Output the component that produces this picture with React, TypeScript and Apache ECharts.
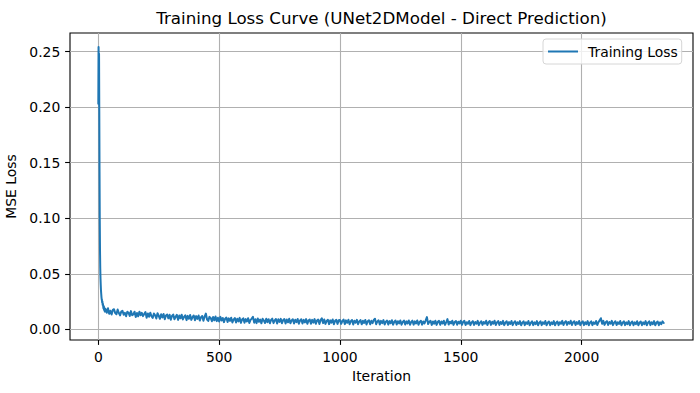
import React, { useEffect, useRef } from "react";
import * as echarts from "echarts";

// Training loss
// iterations 0..29 (one value per iteration)
const earlyLoss = [
  0.203, 0.254, 0.232, 0.248, 0.196, 0.142, 0.098, 0.071, 0.055, 0.046,
  0.040, 0.035, 0.032, 0.029, 0.027, 0.026, 0.024, 0.025, 0.022, 0.023,
  0.021, 0.019, 0.021, 0.018, 0.020, 0.017, 0.019, 0.016, 0.018, 0.016,
];
// iterations 30..495, every 5
const lossA = [
  0.0183, 0.0149, 0.0189, 0.0140, 0.0167, 0.0133, 0.0175, 0.0181, 0.0146, 0.0136,
  0.0178, 0.0147, 0.0126, 0.0159, 0.0167, 0.0131, 0.0148, 0.0118, 0.0159, 0.0150,
  0.0120, 0.0164, 0.0127, 0.0134, 0.0158, 0.0111, 0.0147, 0.0117, 0.0159, 0.0127,
  0.0149, 0.0119, 0.0138, 0.0156, 0.0105, 0.0143, 0.0113, 0.0150, 0.0118, 0.0103,
  0.0143, 0.0127, 0.0098, 0.0145, 0.0122, 0.0095, 0.0135, 0.0107, 0.0138, 0.0091,
  0.0125, 0.0134, 0.0099, 0.0131, 0.0087, 0.0121, 0.0133, 0.0090, 0.0113, 0.0130,
  0.0085, 0.0124, 0.0099, 0.0132, 0.0089, 0.0112, 0.0127, 0.0083, 0.0121, 0.0095,
  0.0129, 0.0085, 0.0110, 0.0125, 0.0081, 0.0119, 0.0094, 0.0124, 0.0079, 0.0109,
  0.0120, 0.0077, 0.0115, 0.0142, 0.0088, 0.0076, 0.0112, 0.0102, 0.0073, 0.0111,
  0.0081, 0.0116, 0.0074, 0.0104,
];
// iterations 500..995, every 5
const lossB = [
  0.0071, 0.0112, 0.0080, 0.0102, 0.0065, 0.0096, 0.0106, 0.0066, 0.0099, 0.0076,
  0.0105, 0.0062, 0.0088, 0.0102, 0.0061, 0.0095, 0.0071, 0.0103, 0.0058, 0.0088,
  0.0099, 0.0059, 0.0092, 0.0071, 0.0100, 0.0057, 0.0085, 0.0096, 0.0112, 0.0060,
  0.0091, 0.0056, 0.0097, 0.0068, 0.0088, 0.0054, 0.0095, 0.0079, 0.0057, 0.0096,
  0.0064, 0.0091, 0.0054, 0.0085, 0.0096, 0.0056, 0.0081, 0.0093, 0.0053, 0.0090,
  0.0067, 0.0094, 0.0055, 0.0083, 0.0092, 0.0052, 0.0088, 0.0063, 0.0095, 0.0054,
  0.0080, 0.0091, 0.0052, 0.0086, 0.0065, 0.0093, 0.0051, 0.0080, 0.0091, 0.0052,
  0.0085, 0.0062, 0.0092, 0.0050, 0.0079, 0.0089, 0.0051, 0.0085, 0.0060, 0.0092,
  0.0050, 0.0079, 0.0088, 0.0048, 0.0083, 0.0100, 0.0056, 0.0089, 0.0049, 0.0076,
  0.0086, 0.0047, 0.0081, 0.0060, 0.0089, 0.0046, 0.0076, 0.0085, 0.0049, 0.0081,
];
// iterations 1000..1495, every 5
const lossC = [
  0.0084, 0.0049, 0.0075, 0.0088, 0.0047, 0.0081, 0.0059, 0.0086, 0.0046, 0.0073,
  0.0084, 0.0044, 0.0078, 0.0060, 0.0085, 0.0046, 0.0071, 0.0083, 0.0045, 0.0077,
  0.0058, 0.0084, 0.0044, 0.0073, 0.0082, 0.0045, 0.0077, 0.0056, 0.0084, 0.0095,
  0.0046, 0.0071, 0.0081, 0.0043, 0.0076, 0.0056, 0.0083, 0.0043, 0.0069, 0.0079,
  0.0043, 0.0074, 0.0056, 0.0082, 0.0042, 0.0068, 0.0079, 0.0044, 0.0073, 0.0054,
  0.0080, 0.0042, 0.0067, 0.0079, 0.0043, 0.0072, 0.0053, 0.0080, 0.0041, 0.0066,
  0.0078, 0.0042, 0.0072, 0.0053, 0.0080, 0.0041, 0.0067, 0.0077, 0.0042, 0.0071,
  0.0053, 0.0080, 0.0110, 0.0047, 0.0068, 0.0077, 0.0040, 0.0070, 0.0051, 0.0078,
  0.0040, 0.0067, 0.0076, 0.0041, 0.0070, 0.0052, 0.0078, 0.0040, 0.0065, 0.0092,
  0.0043, 0.0069, 0.0053, 0.0078, 0.0040, 0.0066, 0.0075, 0.0041, 0.0069, 0.0054,
];
// iterations 1500..2340, every 5
const lossD = [
  0.0077, 0.0040, 0.0067, 0.0076, 0.0039, 0.0064, 0.0050, 0.0075, 0.0038, 0.0063,
  0.0074, 0.0039, 0.0066, 0.0050, 0.0076, 0.0038, 0.0061, 0.0073, 0.0040, 0.0066,
  0.0051, 0.0077, 0.0039, 0.0064, 0.0075, 0.0040, 0.0068, 0.0051, 0.0078, 0.0039,
  0.0062, 0.0074, 0.0039, 0.0066, 0.0049, 0.0076, 0.0038, 0.0061, 0.0073, 0.0039,
  0.0065, 0.0048, 0.0075, 0.0038, 0.0060, 0.0073, 0.0039, 0.0064, 0.0048, 0.0074,
  0.0037, 0.0060, 0.0072, 0.0038, 0.0064, 0.0048, 0.0075, 0.0037, 0.0059, 0.0072,
  0.0038, 0.0063, 0.0047, 0.0074, 0.0037, 0.0060, 0.0072, 0.0038, 0.0064, 0.0048,
  0.0075, 0.0037, 0.0059, 0.0071, 0.0037, 0.0063, 0.0047, 0.0074, 0.0036, 0.0059,
  0.0071, 0.0038, 0.0064, 0.0050, 0.0076, 0.0039, 0.0063, 0.0074, 0.0040, 0.0066,
  0.0051, 0.0077, 0.0039, 0.0063, 0.0073, 0.0039, 0.0065, 0.0049, 0.0075, 0.0038,
  0.0061, 0.0072, 0.0038, 0.0064, 0.0047, 0.0074, 0.0037, 0.0060, 0.0072, 0.0038,
  0.0063, 0.0048, 0.0075, 0.0039, 0.0065, 0.0080, 0.0100, 0.0050, 0.0076, 0.0040,
  0.0064, 0.0074, 0.0039, 0.0066, 0.0050, 0.0076, 0.0038, 0.0061, 0.0073, 0.0039,
  0.0064, 0.0048, 0.0075, 0.0037, 0.0060, 0.0072, 0.0038, 0.0063, 0.0047, 0.0074,
  0.0037, 0.0059, 0.0071, 0.0037, 0.0063, 0.0047, 0.0073, 0.0036, 0.0059, 0.0071,
  0.0037, 0.0063, 0.0046, 0.0074, 0.0037, 0.0060, 0.0072, 0.0038, 0.0064, 0.0047,
  0.0074, 0.0037, 0.0059, 0.0071, 0.0037, 0.0063, 0.0047, 0.0072, 0.0057,
];

const segments = [
  { start: 0, step: 1, values: earlyLoss },
  { start: 30, step: 5, values: lossA },
  { start: 500, step: 5, values: lossB },
  { start: 1000, step: 5, values: lossC },
  { start: 1500, step: 5, values: lossD },
];

const xTicks = [0, 500, 1000, 1500, 2000];
const yTicks = [0, 0.05, 0.1, 0.15, 0.2, 0.25];
const X_MIN = -117.2;
const X_MAX = 2461.2;
const Y_MIN = -0.0096;
const Y_MAX = 0.2667;

const TITLE = "Training Loss Curve (UNet2DModel - Direct Prediction)";
const X_NAME = "Iteration";
const Y_NAME = "MSE Loss";
const SERIES_NAME = "Training Loss";

const LINE_COLOR = "#1f77b4";
const FONT = "'DejaVu Sans', sans-serif";

export default function App() {
  const ref = useRef<HTMLDivElement>(null);
  useEffect(() => {
    document.body.style.margin = "0";
    if (!ref.current) return;
    const chart = echarts.init(ref.current, undefined, { renderer: "svg" });
    const data: [number, number][] = [];
    segments.forEach((s) => {
      s.values.forEach((v, i) => data.push([s.start + i * s.step, v]));
    });
    const axisCommon = {
      axisLine: { show: false, onZero: false },
      axisTick: {
        show: true,
        length: 4.9,
        lineStyle: { color: "#000", width: 1.1 },
      },
      splitLine: { show: true, lineStyle: { color: "#b0b0b0", width: 1.1 } },
      axisLabel: {
        color: "#000",
        fontFamily: FONT,
        fontSize: 13.9,
        margin: 9.7,
      },
      nameTextStyle: { color: "#000", fontFamily: FONT, fontSize: 13.9 },
      nameLocation: "middle" as const,
    };
    chart.setOption({
      animation: false,
      backgroundColor: "#fff",
      textStyle: { fontFamily: FONT },
      grid: {
        left: 70,
        right: 7,
        top: 33,
        bottom: 53,
        show: true,
        borderColor: "#000",
        borderWidth: 1.1,
        backgroundColor: "transparent",
        containLabel: false,
        outerBoundsMode: "none",
      },
      graphic: [
        {
          type: "text",
          x: 381.5,
          y: 18,
          style: {
            text: TITLE,
            align: "center",
            verticalAlign: "middle",
            fontFamily: FONT,
            fontSize: 16.7,
            fill: "#000",
          },
        },
      ],
      legend: {
        show: true,
        left: 543,
        top: 39,
        orient: "vertical",
        padding: [5.5, 4, 5.5, 5],
        backgroundColor: "rgba(255,255,255,0.8)",
        borderColor: "#d6d6d6",
        borderWidth: 1,
        borderRadius: 3,
        icon: "rect",
        itemWidth: 30,
        itemHeight: 2,
        textStyle: {
          color: "#000",
          fontFamily: FONT,
          fontSize: 13.9,
          lineHeight: 14,
          padding: [0, 0, 0, 5],
        },
        data: [SERIES_NAME],
      },
      xAxis: {
        ...axisCommon,
        type: "value",
        min: X_MIN,
        max: X_MAX,
        name: X_NAME,
        nameGap: 29,
        axisTick: { ...axisCommon.axisTick, customValues: xTicks },
        axisLabel: {
          ...axisCommon.axisLabel,
          customValues: xTicks,
          formatter: (v: number) => String(v),
        },
      },
      yAxis: {
        ...axisCommon,
        type: "value",
        min: Y_MIN,
        max: Y_MAX,
        name: Y_NAME,
        nameGap: 38,
        axisTick: { ...axisCommon.axisTick, customValues: yTicks },
        axisLabel: {
          ...axisCommon.axisLabel,
          customValues: yTicks,
          formatter: (v: number) => v.toFixed(2),
        },
      },
      series: [
        {
          name: SERIES_NAME,
          type: "custom",
          data,
          color: LINE_COLOR,
          itemStyle: { color: LINE_COLOR },
          encode: { x: 0, y: 1 },
          clip: true,
          z: 3,
          renderItem: (params: any, api: any) => {
            if (params.dataIndex !== 0) return null;
            const points = data.map((d) => api.coord(d));
            return {
              type: "polyline",
              silent: true,
              shape: { points },
              style: {
                stroke: LINE_COLOR,
                lineWidth: 2,
                fill: null,
                lineJoin: "round",
                lineCap: "round",
              },
            };
          },
        },
      ],
    });
    return () => chart.dispose();
  }, []);
  return <div ref={ref} style={{ width: 700, height: 393 }} />;
}
